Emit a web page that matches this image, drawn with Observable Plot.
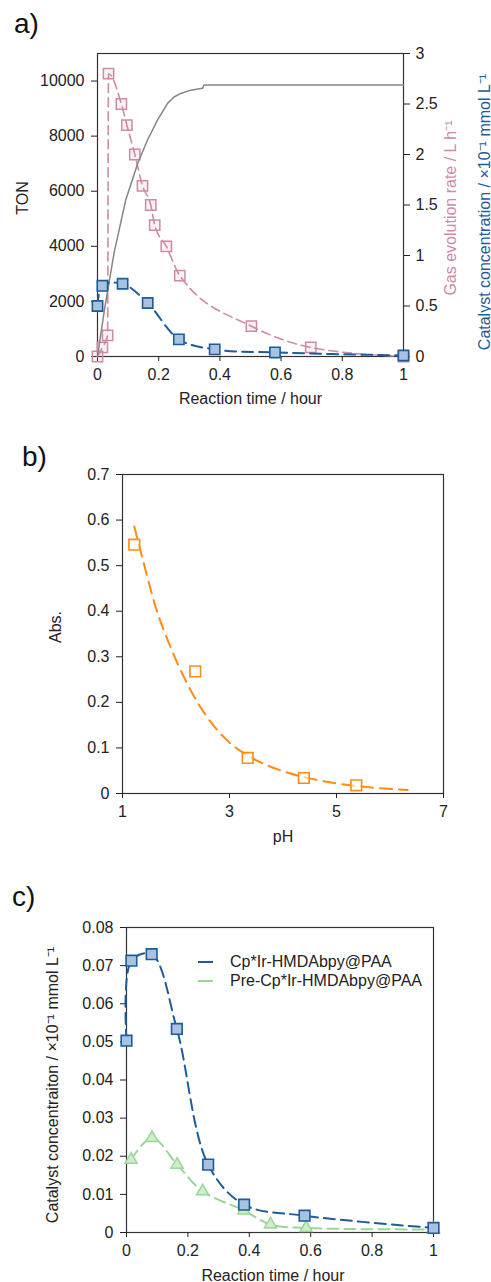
<!DOCTYPE html>
<html><head><meta charset="utf-8">
<script src="https://cdn.jsdelivr.net/npm/d3@7"></script>
<script src="https://cdn.jsdelivr.net/npm/@observablehq/plot@0.6"></script>
<style>
body{margin:0;width:491px;height:1282px;position:relative;background:#fff;font-family:"Liberation Sans",Arial,sans-serif;overflow:hidden}
.panel{position:absolute;left:0;z-index:1}
.tag{position:absolute;font-size:28px;color:#111;z-index:2;line-height:1}
.legend{position:absolute;z-index:2;font-size:16px;color:#222}
.legend .row{display:flex;align-items:center;height:19px;white-space:nowrap}
.legend .sw{display:inline-block;width:15px;border-top:2.5px solid;margin-right:17px}
</style></head><body>
<div class="tag" style="left:14px;top:10px">a)</div>
<div class="tag" style="left:22px;top:443px">b)</div>
<div class="tag" style="left:12px;top:883px">c)</div>
<div id="pa" class="panel" style="top:40px"></div>
<div id="pb" class="panel" style="top:455px"></div>
<div id="pc" class="panel" style="top:915px"></div>
<div class="legend" style="left:198px;top:952px">
  <div class="row"><span class="sw" style="border-color:#1d5c99"></span>Cp*Ir-HMDAbpy@PAA</div>
  <div class="row"><span class="sw" style="border-color:#9ad69a"></span>Pre-Cp*Ir-HMDAbpy@PAA</div>
</div>
<script>
// ---------- Panel a data ----------
const timeGas = [0, 0.016, 0.033, 0.036, 0.078, 0.096, 0.122, 0.147, 0.174, 0.187, 0.225, 0.269, 0.503, 0.697, 1];
const gasRate = [0, 0.09, 0.21, 2.80, 2.50, 2.29, 2.00, 1.69, 1.50, 1.30, 1.09, 0.80, 0.30, 0.09, 0];
const timeTON = [0, 0.022, 0.054, 0.092, 0.131, 0.163, 0.196, 0.229, 0.250, 0.272, 0.305, 0.343, 0.348, 1];
const ton = [0, 1650, 3750, 5670, 7000, 7850, 8580, 9190, 9420, 9550, 9670, 9735, 9855, 9855];
const timeCat = [0, 0.016, 0.082, 0.164, 0.266, 0.383, 0.580, 1];
const catA = [0.50, 0.70, 0.72, 0.53, 0.17, 0.07, 0.04, 0.01];
const ticksXA = [0, 0.2, 0.4, 0.6, 0.8, 1];
const ticksTON = [0, 2000, 4000, 6000, 8000, 10000];
const ticksRight = [0, 0.5, 1, 1.5, 2, 2.5, 3];

// ---------- Panel b data ----------
const pH = [1.22, 2.36, 3.34, 4.39, 5.37];
const absVal = [0.546, 0.268, 0.078, 0.034, 0.018];
const pHFit = [1.22, 1.40, 1.62, 1.90, 2.15, 2.46, 2.96, 3.46, 4.08, 4.71, 5.33, 6.33];
const absFit = [0.586, 0.504, 0.409, 0.321, 0.255, 0.189, 0.116, 0.0755, 0.046, 0.028, 0.017, 0.0075];
const ticksXB = [1, 3, 5, 7];
const ticksYB = [0, 0.1, 0.2, 0.3, 0.4, 0.5, 0.6, 0.7];

// ---------- Panel c data ----------
const catC = [0.0503, 0.0713, 0.0730, 0.0534, 0.0178, 0.0073, 0.0044, 0.0012];
const timePre = [0.015, 0.083, 0.165, 0.248, 0.382, 0.469, 0.585, 1];
const preC = [0.0191, 0.0248, 0.0178, 0.0108, 0.0058, 0.0021, 0.0012, 0.0008];
const ticksYC = [0, 0.01, 0.02, 0.03, 0.04, 0.05, 0.06, 0.07, 0.08];

const FONT = '"Liberation Sans", Arial, sans-serif';
const PINK = "#cf8aa8", BLUE = "#1d5c99", BLUEFILL = "#a9c2e0", GRAY = "#858585";
const ORANGE = "#ff8c14", GREEN = "#9ad69a", GREENFILL = "#cdeec6";
const fmt = d3.format("~g");
const style = {fontFamily: FONT, fontSize: "16px", color: "#222", background: "transparent", overflow: "visible"};
const K = 11000 / 3;

const gasData = timeGas.map((t, i) => ({t, v: gasRate[i]}));
const tonData = timeTON.map((t, i) => ({t, v: ton[i]}));
const catAData = timeCat.map((t, i) => ({t, v: catA[i]}));

const plotA = Plot.plot({
  width: 491, height: 375, marginLeft: 97, marginRight: 88, marginTop: 13, marginBottom: 59,
  style,
  x: {domain: [0, 1]},
  y: {domain: [0, 11000]},
  marks: [
    Plot.frame({stroke: "#333", strokeWidth: 1.2}),
    Plot.axisX(ticksXA, {tickFormat: fmt, tickSize: 5, tickPadding: 7, label: null}),
    Plot.axisY(ticksTON, {anchor: "left", tickFormat: d3.format("d"), tickSize: 6, tickPadding: 7, label: null}),
    Plot.axisY(ticksRight.map(v => v * K), {anchor: "right", tickFormat: d => fmt(d / K), tickSize: 6, tickPadding: 6, label: null}),
    Plot.line(gasData, {x: "t", y: d => d.v * K, curve: "monotone-x", stroke: PINK, strokeWidth: 1.6, strokeDasharray: "9,5"}),
    Plot.dot(gasData, {x: "t", y: d => d.v * K, symbol: "square", r: 5.8, stroke: PINK, strokeWidth: 1.5, fill: PINK, fillOpacity: 0.12}),
    Plot.line(tonData, {x: "t", y: "v", stroke: GRAY, strokeWidth: 1.5}),
    Plot.line(catAData, {x: "t", y: d => d.v * K, curve: "catmull-rom", stroke: BLUE, strokeWidth: 2, strokeDasharray: "11,6"}),
    Plot.dot(catAData, {x: "t", y: d => d.v * K, symbol: "square", r: 5.8, stroke: BLUE, strokeWidth: 1.6, fill: BLUEFILL}),
    Plot.text(["TON"], {frameAnchor: "left", dx: -75, dy: -7, rotate: -90, textAnchor: "middle", lineAnchor: "middle", fontSize: 16, fill: "#222"}),
    Plot.text(["Reaction time / hour"], {frameAnchor: "bottom", dy: 42, textAnchor: "middle", lineAnchor: "middle", fontSize: 16, fill: "#222"}),
    Plot.text(["Gas evolution rate / L h⁻¹"], {frameAnchor: "right", dx: 47, dy: 3, rotate: -90, textAnchor: "middle", lineAnchor: "middle", fontSize: 16, fill: PINK}),
    Plot.text(["Catalyst concentration / ×10⁻¹ mmol L⁻¹"], {frameAnchor: "right", dx: 81, dy: 7, rotate: -90, textAnchor: "middle", lineAnchor: "middle", fontSize: 16, fill: BLUE})
  ]
});
document.getElementById("pa").append(plotA);

const absData = pH.map((p, i) => ({p, v: absVal[i]}));
const fitData = pHFit.map((p, i) => ({p, v: absFit[i]}));
const plotB = Plot.plot({
  width: 491, height: 395, marginLeft: 122, marginRight: 48, marginTop: 19, marginBottom: 57,
  style,
  x: {domain: [1, 7]},
  y: {domain: [0, 0.7]},
  marks: [
    Plot.frame({stroke: "#333", strokeWidth: 1.2}),
    Plot.axisX(ticksXB, {tickFormat: fmt, tickSize: 5, tickPadding: 7, label: null}),
    Plot.axisY(ticksYB, {tickFormat: fmt, tickSize: 6, tickPadding: 7, label: null}),
    Plot.line(fitData, {x: "p", y: "v", curve: "monotone-x", stroke: ORANGE, strokeWidth: 2, strokeDasharray: "12,7"}),
    Plot.dot(absData, {x: "p", y: "v", symbol: "square", r: 6, stroke: ORANGE, strokeWidth: 1.6, fill: "white", fillOpacity: 0.6}),
    Plot.text(["Abs."], {frameAnchor: "left", dx: -67, dy: -7, rotate: -90, textAnchor: "middle", lineAnchor: "middle", fontSize: 16, fill: "#222"}),
    Plot.text(["pH"], {frameAnchor: "bottom", dy: 43, textAnchor: "middle", lineAnchor: "middle", fontSize: 16, fill: "#222"})
  ]
});
document.getElementById("pb").append(plotB);

const catCData = timeCat.map((t, i) => ({t, v: catC[i]}));
const preData = timePre.map((t, i) => ({t, v: preC[i]}));
const plotC = Plot.plot({
  width: 491, height: 367, marginLeft: 126, marginRight: 58, marginTop: 12, marginBottom: 50,
  style,
  x: {domain: [0, 1]},
  y: {domain: [0, 0.08]},
  marks: [
    Plot.frame({stroke: "#333", strokeWidth: 1.2}),
    Plot.axisX(ticksXA, {tickFormat: fmt, tickSize: 5, tickPadding: 7, label: null}),
    Plot.axisY(ticksYC, {tickFormat: fmt, tickSize: 6, tickPadding: 7, label: null}),
    Plot.line(preData, {x: "t", y: "v", curve: "catmull-rom", stroke: GREEN, strokeWidth: 2, strokeDasharray: "11,6"}),
    Plot.dot(preData, {x: "t", y: "v", symbol: "triangle", r: 4.5, stroke: GREEN, strokeWidth: 1.5, fill: GREENFILL}),
    Plot.line(catCData, {x: "t", y: "v", curve: "catmull-rom", stroke: BLUE, strokeWidth: 2, strokeDasharray: "11,6"}),
    Plot.dot(catCData, {x: "t", y: "v", symbol: "square", r: 6, stroke: BLUE, strokeWidth: 1.6, fill: BLUEFILL}),
    Plot.text(["Catalyst concentraiton / ×10⁻¹ mmol L⁻¹"], {frameAnchor: "left", dx: -74, dy: 5, rotate: -90, textAnchor: "middle", lineAnchor: "middle", fontSize: 16, fill: "#222"}),
    Plot.text(["Reaction time / hour"], {frameAnchor: "bottom", dy: 43, dx: -7, textAnchor: "middle", lineAnchor: "middle", fontSize: 16, fill: "#222"})
  ]
});
document.getElementById("pc").append(plotC);
</script>
</body></html>
